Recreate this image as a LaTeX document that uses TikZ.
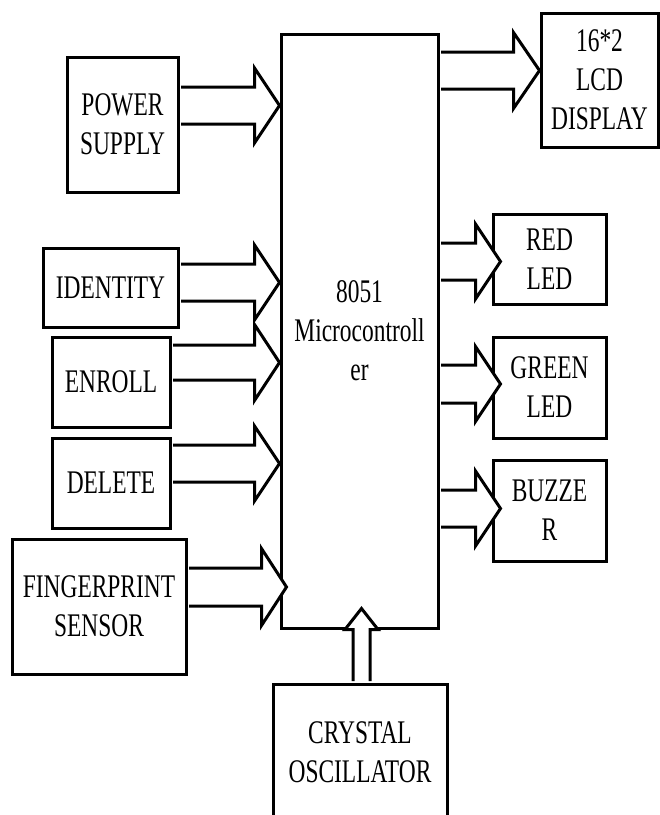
\documentclass[tikz,border=0pt]{standalone}
\usepackage{fontspec}
\setmainfont{Liberation Serif}[FakeStretch=0.71]
\usetikzlibrary{calc}
\tikzset{
  blk/.style={draw, line width=3pt, fill=white, align=center, inner sep=0pt,
    font=\fontsize{33}{39}\selectfont},
  barr/.style={draw, line width=3pt, fill=white, line join=miter},
}
% block arrow to the right: #1 source, #2 target, #3 y centre, #4 half shaft, #5 half head, #6 head length, #7 tip shift
\newcommand\barrowR[7]{%
  \coordinate (ba) at (#1.east |- 0,#3);
  \coordinate (bt) at ($(#2.west |- 0,#3)+(#7,0)$);
  \draw[barr] ($(ba)+(1.5,-#4)$) -- ($(bt)+(-#6,-#4)$) -- ($(bt)+(-#6,-#5)$) -- (bt)
    -- ($(bt)+(-#6,#5)$) -- ($(bt)+(-#6,#4)$) -- ($(ba)+(1.5,#4)$);
}
\begin{document}
\begin{tikzpicture}[x=1pt,y=-1pt]
\useasboundingbox (0,0) rectangle (660,815);
\fill[white] (0,0) rectangle (660,815);
\clip (0,0) rectangle (660,815);
% blocks
\node[blk, minimum width=111pt, minimum height=135pt] (ps) at (122.5,124.5) {POWER\\SUPPLY};
\node[blk, minimum width=135pt, minimum height=79pt] (id) at (110.5,287.5) {IDENTITY};
\node[blk, minimum width=118pt, minimum height=90pt] (en) at (111,382) {ENROLL};
\node[blk, minimum width=118pt, minimum height=90pt] (del) at (111,483) {DELETE};
\node[blk, minimum width=174pt, minimum height=135pt] (fp) at (99,606.5) {FINGERPRINT\\SENSOR};
\node[blk, minimum width=157pt, minimum height=594pt] (mcu) at (359.5,331) {8051\\Microcontroll\\er};
\node[blk, minimum width=117pt, minimum height=134pt] (lcd) at (599.5,80) {16*2\\LCD\\DISPLAY};
\node[blk, minimum width=113pt, minimum height=90pt] (red) at (549.5,259) {RED\\LED};
\node[blk, minimum width=113pt, minimum height=101pt] (green) at (549.5,387.5) {GREEN\\LED};
\node[blk, minimum width=113pt, minimum height=101pt] (buzz) at (549.5,510.5) {BUZZE\\R};
\node[blk, minimum width=174pt, minimum height=136pt] (xtal) at (360,752) {CRYSTAL\\OSCILLATOR};
% input arrows
\barrowR{ps}{mcu}{105.5}{18.5}{37.5}{25}{0}
\barrowR{id}{mcu}{282.5}{18.5}{37.5}{25}{0}
\barrowR{en}{mcu}{362.5}{17.5}{38}{25}{0}
\barrowR{del}{mcu}{463.5}{18.5}{37.5}{25}{0}
\barrowR{fp}{mcu}{587}{19}{38.5}{25}{7}
% output arrows
\barrowR{mcu}{lcd}{70.5}{18.5}{38}{26}{0}
\barrowR{mcu}{red}{261.5}{18.5}{37.5}{25}{9}
\barrowR{mcu}{green}{384}{19}{37.5}{25}{9}
\barrowR{mcu}{buzz}{508.5}{18.5}{37.5}{25}{9}
% crystal arrow (upwards)
\coordinate (ca) at (xtal.north -| 361.5,0);
\coordinate (cb) at (mcu.south -| 361.5,0);
\draw[barr] ($(ca)+(-8.5,-1.5)$) -- ($(cb)+(-8.5,0)$) -- ($(cb)+(-16.5,0)$) -- ($(cb)+(0,-21)$)
  -- ($(cb)+(16.5,0)$) -- ($(cb)+(8.5,0)$) -- ($(ca)+(8.5,-1.5)$);
\end{tikzpicture}
\end{document}
